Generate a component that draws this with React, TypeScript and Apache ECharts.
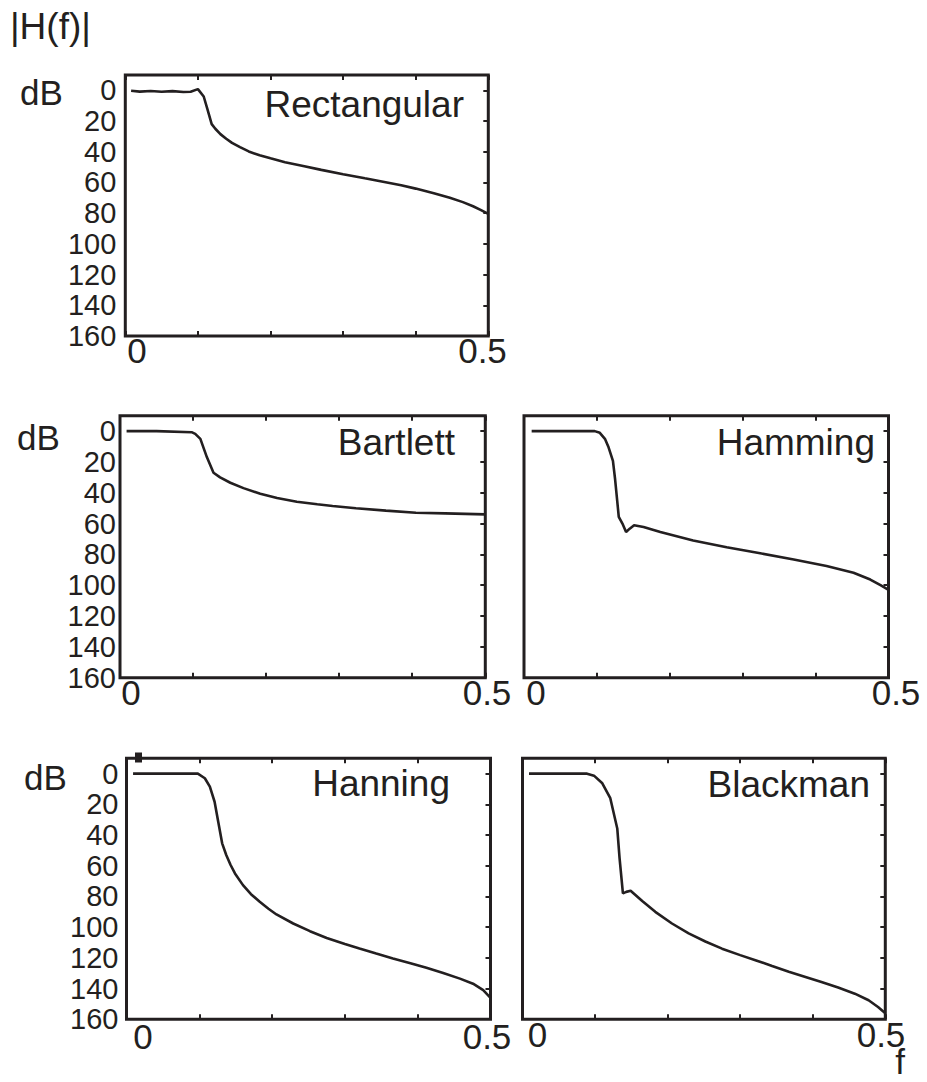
import React, { useEffect, useRef } from "react";
import * as echarts from "echarts";

// ---- data (frequency f in cycles/sample, magnitude in dB below 0) ----
const rectF = [0.008, 0.02, 0.035, 0.05, 0.065, 0.08, 0.09, 0.1, 0.108, 0.113, 0.119, 0.124, 0.131, 0.139, 0.147, 0.158, 0.17, 0.185, 0.2, 0.22, 0.245, 0.27, 0.3, 0.33, 0.355, 0.38, 0.4, 0.425, 0.447, 0.465, 0.479, 0.49, 0.5];
const rectDb = [0.3, 0.8, 0.4, 0.9, 0.5, 1.1, 0.9, -0.8, 4, 12, 22, 25, 28.5, 31.5, 34.2, 37, 39.8, 42.3, 44.3, 46.8, 49.3, 51.8, 54.6, 57.3, 59.5, 61.8, 64, 67, 70, 72.8, 75.5, 78, 80.5];

const bartF = [0.009, 0.05, 0.098, 0.103, 0.11, 0.119, 0.128, 0.137, 0.151, 0.169, 0.192, 0.215, 0.242, 0.27, 0.291, 0.323, 0.364, 0.405, 0.445, 0.5];
const bartDb = [0, 0, 0.7, 1.8, 5, 17, 27, 30, 33.5, 37, 40.6, 43.4, 45.8, 47.5, 48.6, 50.1, 51.6, 53, 53.4, 54];

const hammF = [0.0105, 0.05, 0.097, 0.104, 0.111, 0.116, 0.122, 0.125, 0.13, 0.135, 0.14, 0.145, 0.151, 0.164, 0.187, 0.232, 0.278, 0.324, 0.37, 0.415, 0.452, 0.475, 0.489, 0.5];
const hammDb = [0, 0, 0, 1.1, 5, 10.5, 19.3, 31.4, 55.6, 60, 65.5, 63.3, 61.1, 62.2, 65.5, 71, 75.4, 79.3, 83.3, 87.5, 91.9, 96.3, 100, 103];

const hannF = [0.009, 0.05, 0.098, 0.1076, 0.1145, 0.121, 0.126, 0.1314, 0.137, 0.143, 0.149, 0.16, 0.171, 0.183, 0.195, 0.206, 0.229, 0.252, 0.275, 0.3, 0.32, 0.343, 0.366, 0.39, 0.412, 0.435, 0.458, 0.476, 0.49, 0.5];
const hannDb = [0, 0, 0, 3, 8.5, 18.3, 31.3, 45.4, 53, 59.5, 65, 72.6, 78.5, 83.5, 88, 91.7, 97.6, 102.6, 107, 111, 113.9, 117.2, 120.4, 123.5, 126.5, 129.8, 133.5, 136.8, 141, 146];

const blackF = [0.009, 0.05, 0.089, 0.0985, 0.11, 0.121, 0.1306, 0.1338, 0.1384, 0.143, 0.149, 0.165, 0.183, 0.206, 0.229, 0.252, 0.275, 0.3, 0.321, 0.344, 0.367, 0.39, 0.412, 0.435, 0.458, 0.477, 0.49, 0.5];
const blackDb = [0, 0, 0, 1.3, 6.3, 16, 35.7, 55.2, 78, 77, 76.3, 83, 90, 97.6, 104, 109.3, 114, 118.2, 121.5, 125.3, 129, 132.4, 135.7, 139.3, 143.3, 147.6, 152, 156];

const windowNames = ["Rectangular", "Bartlett", "Hamming", "Hanning", "Blackman"];
const seriesF = [rectF, bartF, hammF, hannF, blackF];
const seriesDb = [rectDb, bartDb, hammDb, hannDb, blackDb];

const yTickLabels = [0, 20, 40, 60, 80, 100, 120, 140, 160];
const yRightTicks = [0, 20, 40, 60, 80, 100, 120, 140];
const xTickLabels = ["0", "0.5"];
const yMin = -10;
const yMax = 160;
const fMin = 0;
const fMax = 0.5;

// ---- layout (pixels) ----
const panelBoxes = [
  { l: 125.3, t: 75, r: 488.3, b: 336, labels: true, margin: 9 },
  { l: 120, t: 415.7, r: 485.3, b: 677.7, labels: true, margin: 4 },
  { l: 524, t: 415.7, r: 888.5, b: 677.7, labels: false, margin: 4 },
  { l: 126.5, t: 758.3, r: 490.5, b: 1019.3, labels: true, margin: 8 },
  { l: 522.5, t: 758.3, r: 885.3, b: 1019.3, labels: false, margin: 4 },
];
const titlePos = [
  { x: 464, y: 117 },
  { x: 455, y: 455 },
  { x: 875, y: 455 },
  { x: 450, y: 796 },
  { x: 870, y: 797 },
];
const xLabelPos = [
  { x0: 137, x1: 482.5, y: 350.7 },
  { x0: 131, x1: 487, y: 692.5 },
  { x0: 536, x1: 896, y: 692.5 },
  { x0: 143, x1: 487, y: 1036.7 },
  { x0: 537.5, x1: 881, y: 1034 },
];
const dbPos = [
  { x: 20, y: 92.5 },
  { x: 17, y: 437 },
  { x: 24, y: 777 },
];

const INK = "#231f20";
const FONT = "'Liberation Sans', Arial, Helvetica, sans-serif";

export default function App() {
  const ref = useRef<HTMLDivElement>(null);

  useEffect(() => {
    if (!ref.current) return;
    const chart = echarts.init(ref.current, undefined, { renderer: "svg" });

    const grid: any[] = [];
    const xAxis: any[] = [];
    const yAxis: any[] = [];
    const series: any[] = [];

    panelBoxes.forEach((p, i) => {
      grid.push({
        left: p.l,
        top: p.t,
        width: p.r - p.l,
        height: p.b - p.t,
        show: true,
        borderColor: INK,
        borderWidth: 3,
        backgroundColor: "transparent",
        containLabel: false,
      });
      const xCommon = {
        type: "value",
        gridIndex: i,
        min: fMin,
        max: fMax,
        interval: 0.1,
        axisLine: { show: false, onZero: false },
        axisTick: { show: true, inside: true, length: 5, lineStyle: { color: INK, width: 2 } },
        axisLabel: { show: false },
        splitLine: { show: false },
      };
      xAxis.push({ ...xCommon, position: "bottom" });
      xAxis.push({ ...xCommon, position: "top" });
      yAxis.push({
        type: "value",
        gridIndex: i,
        min: yMin,
        max: yMax,
        inverse: true,
        position: "left",
        axisLine: { show: false, onZero: false },
        axisTick: { show: false },
        splitLine: { show: false },
        axisLabel: {
          show: p.labels,
          customValues: yTickLabels,
          color: INK,
          fontSize: 29,
          fontFamily: FONT,
          margin: p.margin,
        },
      });
      yAxis.push({
        type: "value",
        gridIndex: i,
        min: yMin,
        max: yMax,
        inverse: true,
        position: "right",
        axisLine: { show: false, onZero: false },
        axisTick: {
          show: true,
          inside: true,
          length: 5,
          customValues: yRightTicks,
          lineStyle: { color: INK, width: 2 },
        },
        splitLine: { show: false },
        axisLabel: { show: false },
      });
      series.push({
        name: windowNames[i],
        type: "line",
        xAxisIndex: i * 2,
        yAxisIndex: i * 2,
        data: seriesF[i].map((f, k) => [f, seriesDb[i][k]]),
        showSymbol: false,
        symbol: "none",
        lineStyle: { color: INK, width: 2.6 },
        clip: true,
      });
    });

    const graphic: any[] = [];
    graphic.push({
      type: "text",
      x: 10,
      y: 26,
      style: { text: "|H(f)|", fill: INK, font: `37px ${FONT}`, verticalAlign: "middle", align: "left" },
    });
    dbPos.forEach((d) => {
      graphic.push({
        type: "text",
        x: d.x,
        y: d.y,
        style: { text: "dB", fill: INK, font: `35px ${FONT}`, verticalAlign: "middle", align: "left" },
      });
    });
    titlePos.forEach((t, i) => {
      graphic.push({
        type: "text",
        x: t.x,
        y: t.y - 13,
        style: { text: windowNames[i], fill: INK, font: `37px ${FONT}`, verticalAlign: "middle", align: "right" },
      });
    });
    xLabelPos.forEach((p) => {
      graphic.push({
        type: "text",
        x: p.x0,
        y: p.y,
        style: { text: xTickLabels[0], fill: INK, font: `35px ${FONT}`, lineHeight: 26, verticalAlign: "middle", align: "center" },
      });
      graphic.push({
        type: "text",
        x: p.x1,
        y: p.y,
        style: { text: xTickLabels[1], fill: INK, font: `35px ${FONT}`, lineHeight: 26, verticalAlign: "middle", align: "center" },
      });
    });
    graphic.push({
      type: "text",
      x: 900,
      y: 1061,
      style: { text: "f", fill: INK, font: `35px ${FONT}`, lineHeight: 26, verticalAlign: "middle", align: "center" },
    });
    // small stray mark above the Hanning panel corner
    graphic.push({
      type: "rect",
      shape: { x: 135, y: 752.5, width: 7, height: 10 },
      style: { fill: INK },
    });

    chart.setOption({
      animation: false,
      backgroundColor: "#ffffff",
      grid,
      xAxis,
      yAxis,
      series,
      graphic,
    });

    return () => chart.dispose();
  }, []);

  return (
    <div
      ref={ref}
      style={{ position: "fixed", left: 0, top: 0, width: 927, height: 1082, background: "#fff" }}
    />
  );
}
